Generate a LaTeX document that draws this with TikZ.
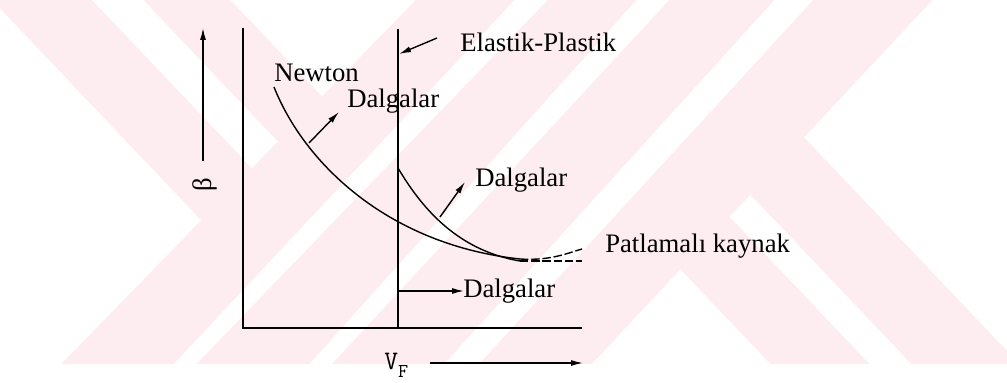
\documentclass[tikz,border=0pt]{standalone}
\usepackage{fontspec}
\setmainfont{Liberation Serif}
\usetikzlibrary{arrows.meta}
\definecolor{wmpink}{RGB}{253,236,240}
\tikzset{
  axis/.style={line width=.5mm,black},
  curve/.style={line width=.35mm,black},
  tail/.style={curve,dash pattern=on 6pt off 2pt},
  arr/.style={line width=.35mm,black,-{Latex[length=3mm,width=1.5mm]}},
  lab/.style={font=\fontsize{19}{22}\selectfont,inner sep=0pt},
  wm/.style={fill=wmpink,draw=none}
}

\begin{document}
\begin{tikzpicture}[x=.25mm,y=-.25mm]
  \useasboundingbox (0,0) rectangle (1007,383);

  % watermark bands
  \begin{scope}
    \clip (0,0) rectangle (1007,364);
    \fill[wm] (415.8,0) -- (514.5,0) -- (173.8,364) -- (61.3,364) -- cycle;
    \fill[wm] (547.7,0) -- (636.2,0) -- (309.3,364) -- (196.5,364) -- cycle;
    \fill[wm] (669.4,0) -- (774.3,0) -- (444.2,364) -- (332,364) -- cycle;
    \fill[wm] (813.3,0) -- (932.5,0) -- (591.8,364) -- (479.1,364) -- cycle;
    \fill[wm] (-8,0) -- (92,0) -- (278,195.8) -- (227.9,248.3) -- cycle;
    \fill[wm] (143.4,0) -- (230.4,0) -- (347.6,123.3) -- (303.8,168.8) -- cycle;
    \fill[wm] (651.5,238.8) -- (700.4,186.1) -- (869.4,364) -- (770.4,364) -- cycle;
    \fill[wm] (721.1,163.7) -- (774.5,106.2) -- (1019.4,364) -- (911.4,364) -- cycle;
  \end{scope}

  % labels
  \node[lab,anchor=base west] (ep) at (460,52) {Elastik-Plastik};
  \node[lab,anchor=base west] (newton) at (274,82) {Newton};
  \node[lab,anchor=base west] (dalgaA) at (347,108) {Dalgalar};
  \node[lab,anchor=base west] (dalgaB) at (475,187) {Dalgalar};
  \node[lab,anchor=base west] (dalgaC) at (463,298) {Dalgalar};
  \node[lab,anchor=base west] (patlama) at (605,253) {Patlamalı kaynak};
  \node[lab,rotate=90] (beta) at (205,185) {β};
  \node[lab,anchor=base west] (vf) at (384,370) {\ttfamily V\raisebox{-5pt}{\fontsize{14}{16}\selectfont F}};

  % axes
  \coordinate (O) at (243,328);
  \coordinate (ytop) at (243,28);
  \coordinate (xend) at (582,328);
  \coordinate (epTop) at (398,29);
  \coordinate (epBot) at (398,328);
  \draw[axis] (ytop) -- (O) -- (xend);
  \draw[axis] (epTop) -- (epBot);

  % direction arrows
  \coordinate (betaA) at (203,161);
  \coordinate (betaB) at (203,28);
  \draw[arr] (betaA) -- (betaB);
  \coordinate (vfA) at (430,363);
  \coordinate (vfB) at (583,363);
  \draw[arr] (vfA) -- (vfB);

  % curves
  \coordinate (nS) at (274,87);
  \coordinate (nE) at (520,259);
  \draw[curve] (nS) .. controls (305,165) and (390,245) .. (nE);
  \draw[tail] (nE) .. controls (550,261) and (568,253) .. (582,249);
  \coordinate (eS) at (398,168);
  \coordinate (eE) at (520,261);
  \draw[curve] (eS) .. controls (420,205) and (455,250) .. (eE);
  \draw[tail] (eE) -- (582,261);

  % pointers
  \coordinate (epA) at (437,38);
  \coordinate (epB) at (399,54);
  \draw[arr] (epA) -- (epB);
  \coordinate (nA) at (309,143);
  \coordinate (nB) at (339,112);
  \draw[arr] (nA) -- (nB);
  \coordinate (eA) at (440,217);
  \coordinate (eB) at (465,182);
  \draw[arr] (eA) -- (eB);
  \coordinate (hA) at (398,291);
  \coordinate (hB) at (464,291);
  \draw[arr] (hA) -- (hB);
\end{tikzpicture}
\end{document}
